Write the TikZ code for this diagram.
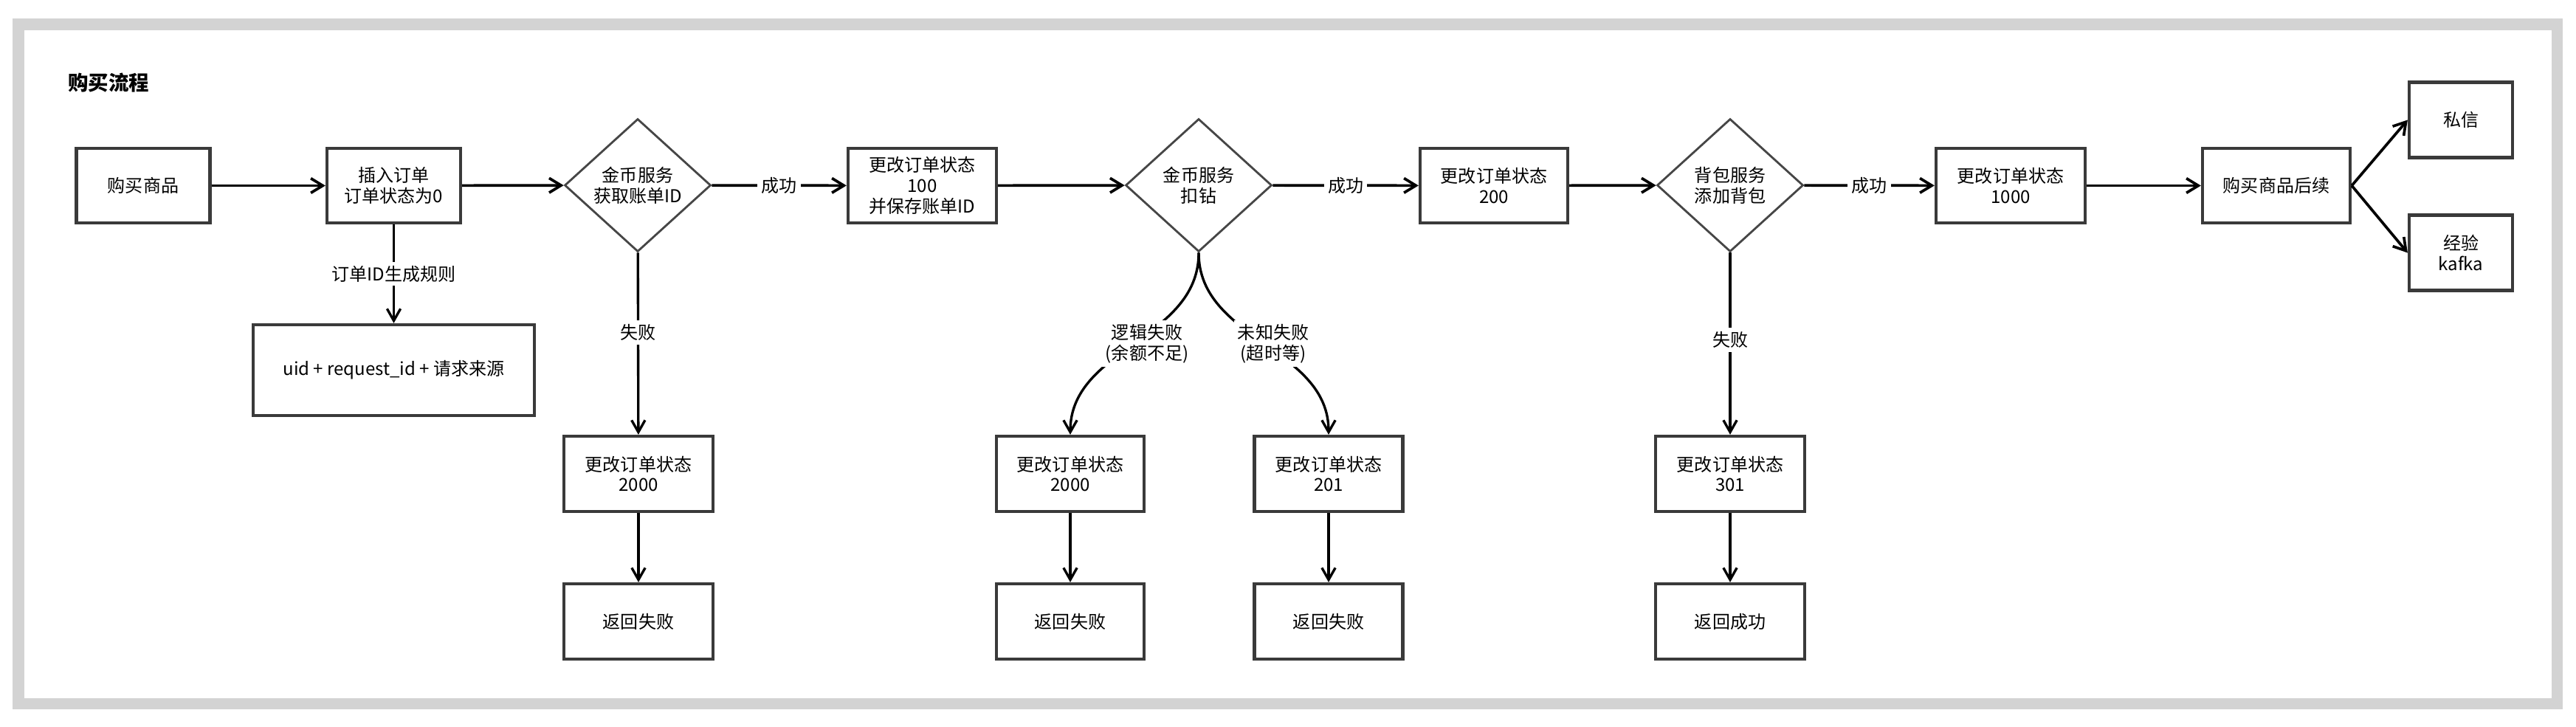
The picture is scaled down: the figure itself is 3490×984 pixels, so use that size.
\documentclass[tikz,border=0pt]{standalone}
\usepackage{fontspec}
\setmainfont{Noto Sans CJK SC}
\usetikzlibrary{shapes.geometric,arrows.meta}
\definecolor{framegray}{RGB}{211,211,211}
\definecolor{edgegray}{RGB}{58,58,58}
\definecolor{diagray}{RGB}{70,70,70}
\begin{document}
\begin{tikzpicture}[x=0.01cm,y=-0.01cm,
  every node/.style={font=\fontsize{6.83pt}{7.9pt}\selectfont, align=center},
  box/.style={draw=edgegray, line width=1.2pt, fill=white, minimum height=1.01cm, inner sep=0pt},
  dec/.style={diamond, draw=diagray, line width=0.8pt, fill=white, minimum width=1.98cm, minimum height=1.8cm, inner sep=0pt},
  main/.style={line width=1.05pt, -{Straight Barb[length=4.6pt,width=5.6pt]}},
  sub/.style={line width=0.95pt, -{Straight Barb[length=4.6pt,width=5.2pt]}},
  lbl/.style={fill=white, inner sep=1.5pt},
]
\useasboundingbox (0,0) rectangle (3490,984);
\fill[white] (0,0) rectangle (3490,984);
\draw[line width=4.27pt, draw=framegray] (25,33) rectangle (3464,953);

\node[anchor=west, font=\fontsize{7.8pt}{9pt}\selectfont\bfseries] (title) at (80,112) {购买流程};

% main row
\node[box, minimum width=1.81cm] (b1) at (194,251.5) {购买商品};
\node[box, minimum width=1.81cm] (b2) at (533.5,251.5) {插入订单\\订单状态为0};
\node[dec] (d1) at (864,251) {金币服务\\获取账单ID};
\node[box, minimum width=2.01cm] (b3) at (1249.5,251.5) {更改订单状态\\100\\并保存账单ID};
\node[dec] (d2) at (1624,251) {金币服务\\扣钻};
\node[box, minimum width=2.0cm] (b4) at (2024,251.5) {更改订单状态\\200};
\node[dec] (d3) at (2344,251) {背包服务\\添加背包};
\node[box, minimum width=2.02cm] (b5) at (2724,251.5) {更改订单状态\\1000};
\node[box, minimum width=2.0cm] (b6) at (3084,251.5) {购买商品后续};
\node[box, minimum width=1.4cm, minimum height=1.02cm] (sx) at (3334,162.5) {私信};
\node[box, minimum width=1.4cm, minimum height=1.02cm] (jy) at (3334,342.5) {经验\\kafka};

% lower rows
\node[box, minimum width=3.81cm, minimum height=1.23cm] (uid) at (533.5,501.5) {uid + request\_id + 请求来源};
\node[box, minimum width=2.02cm, minimum height=1.02cm] (f1) at (865,642) {更改订单状态\\2000};
\node[box, minimum width=2.02cm, minimum height=1.02cm] (r1) at (865,842) {返回失败};
\node[box, minimum width=2.0cm, minimum height=1.02cm] (f2) at (1450,642) {更改订单状态\\2000};
\node[box, minimum width=2.0cm, minimum height=1.02cm] (r2) at (1450,842) {返回失败};
\node[box, minimum width=2.01cm, minimum height=1.02cm] (f3) at (1800,642) {更改订单状态\\201};
\node[box, minimum width=2.01cm, minimum height=1.02cm] (r3) at (1800,842) {返回失败};
\node[box, minimum width=2.02cm, minimum height=1.02cm] (f4) at (2344,642) {更改订单状态\\301};
\node[box, minimum width=2.02cm, minimum height=1.02cm] (r4) at (2344,842) {返回成功};

% connectors
\draw[main] (b1) -- (b2);
\draw[main] (b2) -- (d1);
\draw[main] (d1) -- node[lbl]{成功} (b3);
\draw[main] (b3) -- (d2);
\draw[main] (d2) -- node[lbl]{成功} (b4);
\draw[main] (b4) -- (d3);
\draw[main] (d3) -- node[lbl]{成功} (b5);
\draw[main] (b5) -- (b6);
\draw[main] (b6.east) -- (sx.west);
\draw[main] (b6.east) -- (jy.west);

\draw[sub] (b2) -- node[lbl]{订单ID生成规则} (uid);
\draw[sub] (d1) -- node[lbl, pos=0.44]{失败} (f1);
\draw[sub] (f1) -- (r1);
\draw[sub] (d2.south) to[out=-90,in=90] node[lbl, xshift=0.17cm]{逻辑失败\\(余额不足)} (f2.north);
\draw[sub] (d2.south) to[out=-90,in=90] node[lbl, xshift=0.13cm]{未知失败\\(超时等)} (f3.north);
\draw[sub] (f2) -- (r2);
\draw[sub] (f3) -- (r3);
\draw[sub] (d3) -- node[lbl, pos=0.48]{失败} (f4);
\draw[sub] (f4) -- (r4);
\end{tikzpicture}
\end{document}
